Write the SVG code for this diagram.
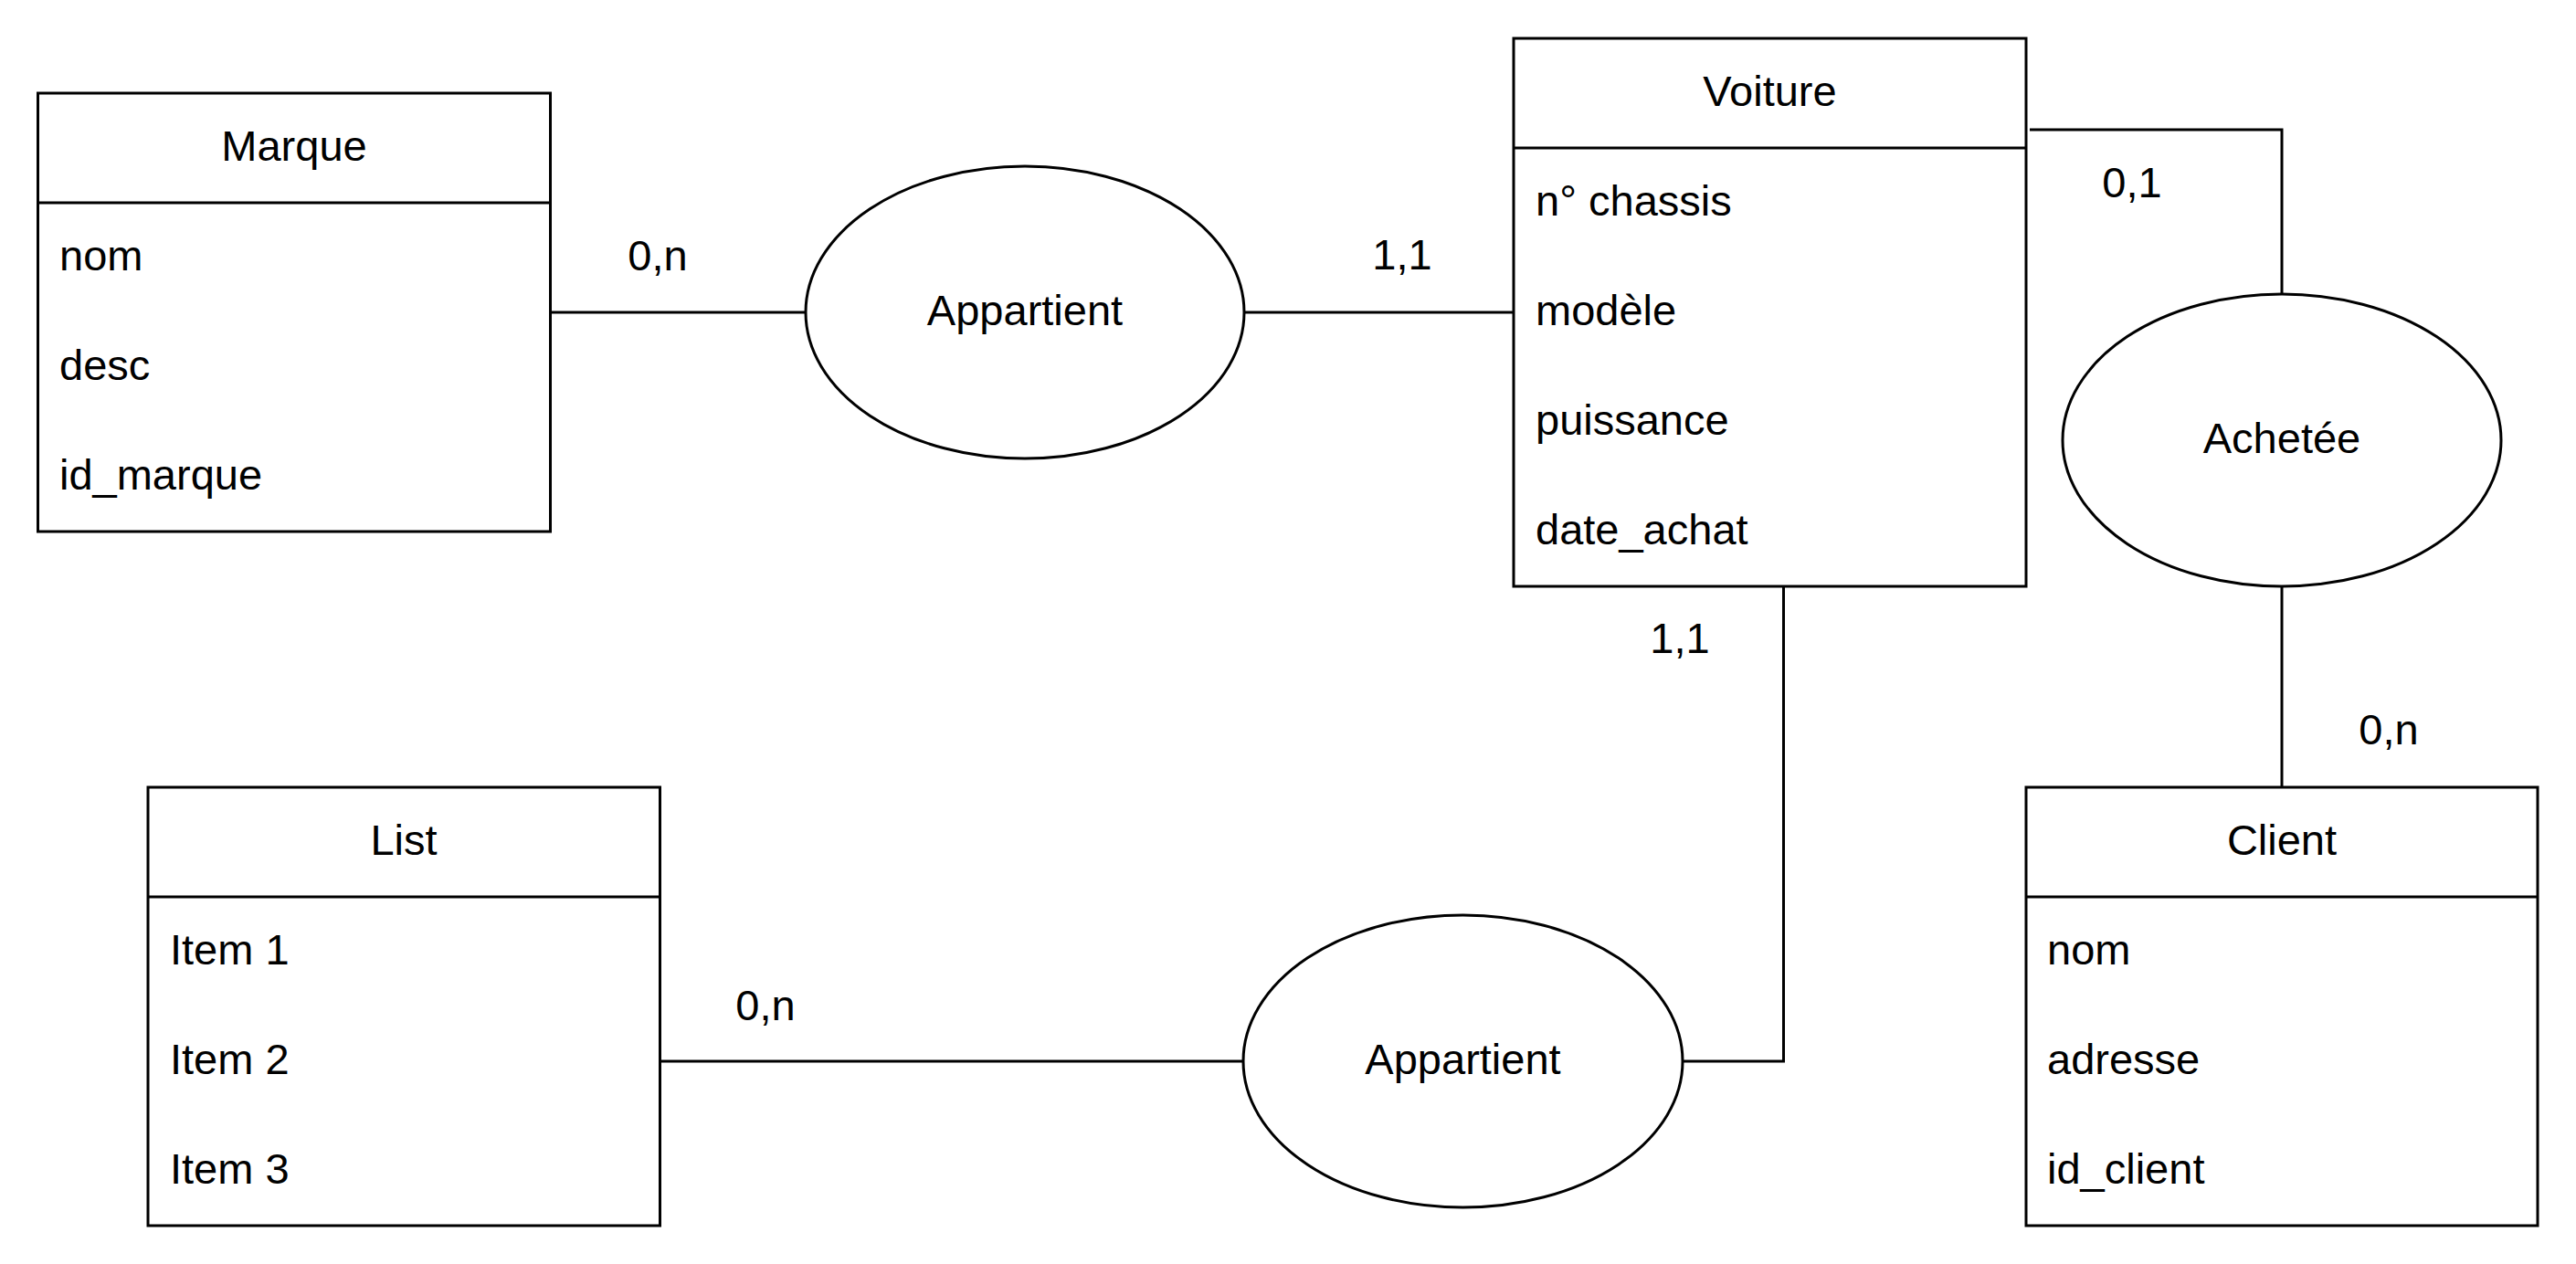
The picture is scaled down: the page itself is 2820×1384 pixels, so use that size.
<svg xmlns="http://www.w3.org/2000/svg" width="2820" height="1384" viewBox="0 0 2820 1384">
<style>
.box{fill:#fff;stroke:#000;stroke-width:3}
.sep{stroke:#000;stroke-width:3}
.conn{fill:none;stroke:#000;stroke-width:3}
text{font-family:"Liberation Sans",Arial,sans-serif;font-size:47px;fill:#000}
.c{text-anchor:middle}
</style>
<rect width="2820" height="1384" fill="#fff"/>
<g id="connectors">
<path class="conn" d="M602.5,342 H882"/>
<path class="conn" d="M1362,342 H1657"/>
<path class="conn" d="M2222,142 H2498 V322"/>
<path class="conn" d="M2498,642 V862"/>
<path class="conn" d="M1952.5,642 V1162 H1842"/>
<path class="conn" d="M722.5,1162 H1361"/>
<text class="c" x="720" y="296">0,n</text>
<text class="c" x="1535" y="295">1,1</text>
<text class="c" x="2334" y="216">0,1</text>
<text class="c" x="1839" y="715">1,1</text>
<text class="c" x="2615" y="815">0,n</text>
<text class="c" x="838" y="1117">0,n</text>
</g>
<g id="marque">
<rect class="box" x="41.5" y="102" width="561" height="480"/>
<line class="sep" x1="41.5" y1="222" x2="602.5" y2="222"/>
<text class="c" x="322" y="176">Marque</text>
<text x="65" y="296">nom</text>
<text x="65" y="416">desc</text>
<text x="65" y="536">id_marque</text>
</g>
<g id="voiture">
<rect class="box" x="1657" y="42" width="561" height="600"/>
<line class="sep" x1="1657" y1="162" x2="2218" y2="162"/>
<text class="c" x="1937.5" y="116">Voiture</text>
<text x="1681" y="236">n° chassis</text>
<text x="1681" y="356">modèle</text>
<text x="1681" y="476">puissance</text>
<text x="1681" y="596">date_achat</text>
</g>
<g id="list">
<rect class="box" x="162" y="862" width="560.5" height="480"/>
<line class="sep" x1="162" y1="982" x2="722.5" y2="982"/>
<text class="c" x="442" y="936">List</text>
<text x="186" y="1056">Item 1</text>
<text x="186" y="1176">Item 2</text>
<text x="186" y="1296">Item 3</text>
</g>
<g id="client">
<rect class="box" x="2218" y="862" width="560" height="480"/>
<line class="sep" x1="2218" y1="982" x2="2778" y2="982"/>
<text class="c" x="2498" y="936">Client</text>
<text x="2241" y="1056">nom</text>
<text x="2241" y="1176">adresse</text>
<text x="2241" y="1296">id_client</text>
</g>
<g id="appartient1">
<ellipse class="box" cx="1122" cy="342" rx="240" ry="160"/>
<text class="c" x="1122" y="356">Appartient</text>
</g>
<g id="achetee">
<ellipse class="box" cx="2498" cy="482" rx="240" ry="160"/>
<text class="c" x="2498" y="496">Achetée</text>
</g>
<g id="appartient2">
<ellipse class="box" cx="1601.5" cy="1162" rx="240.5" ry="160"/>
<text class="c" x="1601.5" y="1176">Appartient</text>
</g>
</svg>
